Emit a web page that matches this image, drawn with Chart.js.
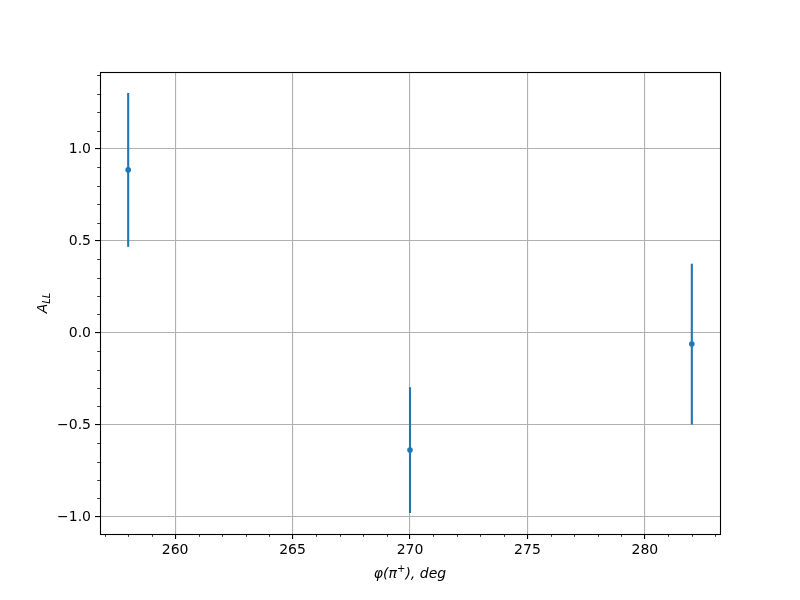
<!DOCTYPE html>
<html>
<head>
<meta charset="utf-8">
<script src="https://cdn.jsdelivr.net/npm/chart.js@4"></script>
<style>
  html, body { margin: 0; padding: 0; background: #fff; }
  #wrap { width: 800px; height: 600px; }
</style>
</head>
<body>
<div id="wrap"><canvas id="c" width="800" height="600"></canvas></div>
<script>
// ---- data ----
const phiValues   = [258, 270, 282];          // φ(π+), deg
const allValues   = [0.886, -0.637, -0.061];  // A_LL
const allErrors   = [0.418, 0.342, 0.437];    // symmetric error
const xTickValues = [260, 265, 270, 275, 280];
const yTickValues = [-1.0, -0.5, 0.0, 0.5, 1.0];
const xRange = [256.8, 283.2];
const yRange = [-1.093, 1.418];

const BLUE = '#1f77b4';
const FONT = 'DejaVu Sans';

const errorDatasets = phiValues.map((x, i) => ({
  type: 'scatter',
  showLine: true,
  data: [{x: x, y: allValues[i] - allErrors[i]}, {x: x, y: allValues[i] + allErrors[i]}],
  borderColor: BLUE,
  borderWidth: 2.1,
  borderCapStyle: 'butt',
  pointRadius: 0,
  pointHoverRadius: 0,
  order: 2
}));

const pointDataset = {
  type: 'scatter',
  data: phiValues.map((x, i) => ({x: x, y: allValues[i]})),
  backgroundColor: BLUE,
  borderColor: BLUE,
  borderWidth: 0,
  pointRadius: 2.8,
  order: 1
};

const framePlugin = {
  id: 'frame',
  afterDraw(chart) {
    const ctx = chart.ctx;
    const a = chart.chartArea;
    const xs = chart.scales.x, ys = chart.scales.y;
    ctx.save();
    // minor ticks
    ctx.strokeStyle = '#000';
    ctx.lineWidth = 0.8;
    ctx.beginPath();
    for (let v = Math.ceil(xRange[0]); v <= xRange[1]; v++) {
      if (v % 5 === 0) continue;
      const px = Math.round(xs.getPixelForValue(v)) + 0.5;
      ctx.moveTo(px, a.bottom);
      ctx.lineTo(px, a.bottom + 2.8);
    }
    for (let k = Math.ceil(yRange[0] * 10); k <= Math.floor(yRange[1] * 10); k++) {
      if (k % 5 === 0) continue;
      const py = Math.round(ys.getPixelForValue(k / 10)) + 0.5;
      ctx.moveTo(a.left, py);
      ctx.lineTo(a.left - 2.8, py);
    }
    ctx.stroke();
    // spines
    ctx.lineWidth = 1.1;
    ctx.strokeStyle = '#000';
    ctx.strokeRect(Math.round(a.left) + 0.5, Math.round(a.top) + 0.5,
                   Math.round(a.right - a.left), Math.round(a.bottom - a.top));
    // x label  φ(π^+), deg
    ctx.fillStyle = '#000';
    ctx.textBaseline = 'alphabetic';
    const big = 'italic 14px "' + FONT + '"';
    const small = 'italic 10px "' + FONT + '"';
    const parts = [
      {t: '\u03C6(\u03C0', f: big, dy: 0},
      {t: '+', f: '10px "' + FONT + '"', dy: -6},
      {t: '), deg', f: big, dy: 0}
    ];
    let tw = 0;
    parts.forEach(p => { ctx.font = p.f; p.w = ctx.measureText(p.t).width; tw += p.w; });
    let cx = (a.left + a.right) / 2 - tw / 2;
    ctx.textAlign = 'left';
    parts.forEach(p => { ctx.font = p.f; ctx.fillText(p.t, cx, 578 + p.dy); cx += p.w; });
    // y label  A_LL
    ctx.translate(42, (a.top + a.bottom) / 2);
    ctx.rotate(-Math.PI / 2);
    ctx.font = big;
    const wA = ctx.measureText('A').width;
    ctx.font = small;
    const wL = ctx.measureText('LL').width;
    const total = wA + wL;
    ctx.font = big;
    ctx.fillText('A', -total / 2, 5);
    ctx.font = small;
    ctx.fillText('LL', -total / 2 + wA, 8);
    ctx.restore();
  }
};

new Chart(document.getElementById('c'), {
  type: 'scatter',
  data: { datasets: [...errorDatasets, pointDataset] },
  options: {
    responsive: false,
    animation: false,
    devicePixelRatio: 1,
    layout: { padding: { top: 72, right: 80, left: 0, bottom: 0 } },
    plugins: { legend: { display: false }, tooltip: { enabled: false }, title: { display: false } },
    scales: {
      x: {
        type: 'linear',
        min: xRange[0], max: xRange[1],
        afterFit(s) { s.height = 66; },
        afterBuildTicks(s) { s.ticks = xTickValues.map(v => ({value: v})); },
        ticks: {
          callback: v => String(v),
          color: '#000',
          font: { family: FONT, size: 14 },
          padding: 3,
          maxRotation: 0,
          includeBounds: false
        },
        grid: { color: '#b0b0b0', lineWidth: 1.1, tickColor: '#000', tickLength: 5, tickWidth: 1.1 },
        border: { display: false }
      },
      y: {
        type: 'linear',
        min: yRange[0], max: yRange[1],
        afterFit(s) { s.width = 100; },
        afterBuildTicks(s) { s.ticks = yTickValues.map(v => ({value: v})); },
        ticks: {
          callback: v => v.toFixed(1).replace('-', '\u2212'),
          color: '#000',
          font: { family: FONT, size: 14 },
          padding: 4,
          includeBounds: false
        },
        grid: { color: '#b0b0b0', lineWidth: 1.1, tickColor: '#000', tickLength: 5, tickWidth: 1.1 },
        border: { display: false }
      }
    }
  },
  plugins: [framePlugin]
});
</script>
</body>
</html>
